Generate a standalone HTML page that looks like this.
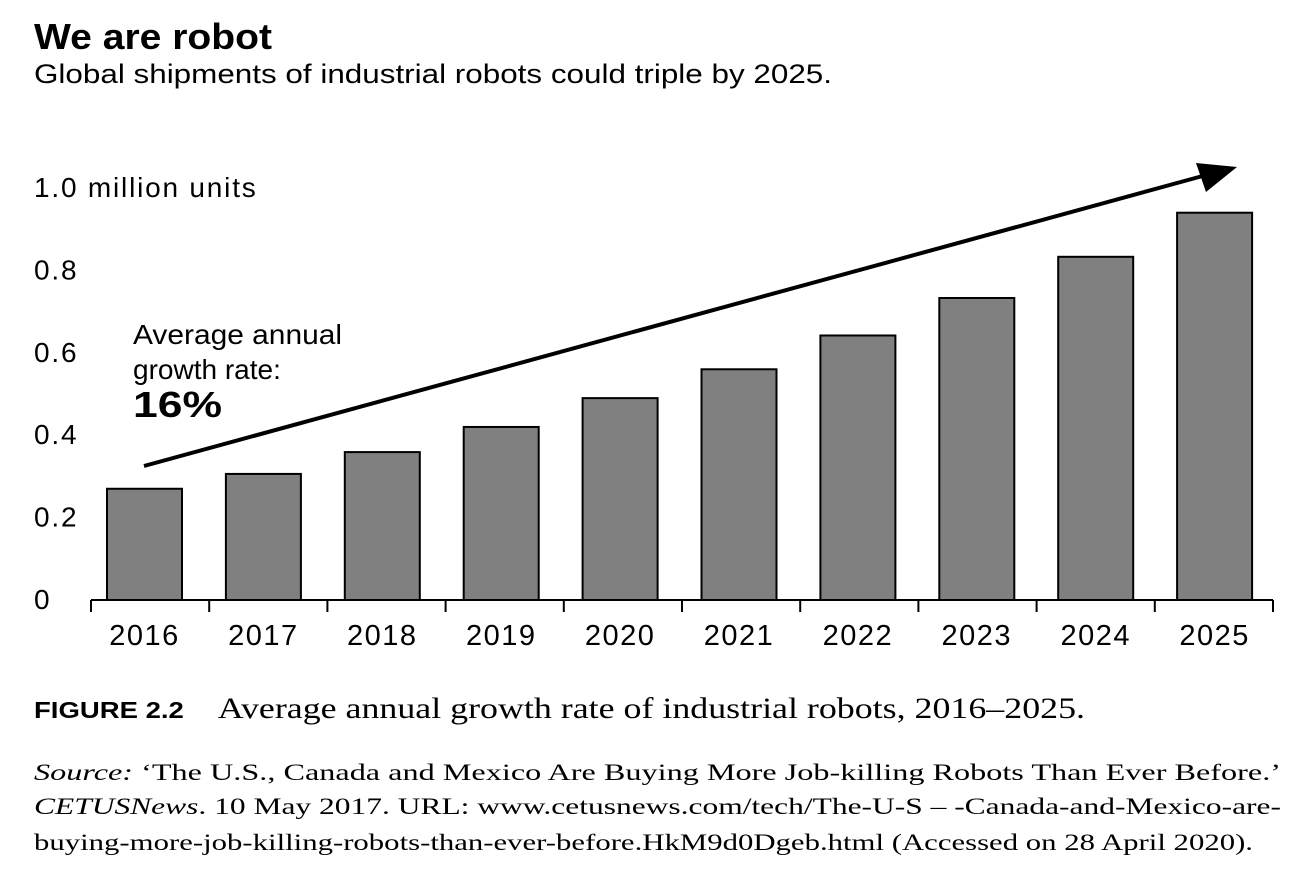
<!DOCTYPE html>
<html><head><meta charset="utf-8"><style>
body{margin:0;width:1307px;height:887px;background:#fff;overflow:hidden;position:relative;font-family:"Liberation Sans",sans-serif;color:#000}
.t{position:absolute;white-space:nowrap;transform-origin:0 0}
</style></head><body>
<div class="t" data-fit="238" style="left:34px;top:16px;font-size:36px;font-weight:bold">We are robot</div>
<div class="t" data-fit="798" style="left:34px;top:59px;font-size:27px">Global shipments of industrial robots could triple by 2025.</div>
<svg id="chart" width="1307" height="680" style="position:absolute;left:0;top:0"></svg>
<div class="t" style="left:133px;top:317px;font-size:28px;line-height:35px"><span class="t" data-fit="209" style="position:static;display:inline-block">Average annual</span><br><span style="display:inline-block">growth rate:</span><br><b data-fit="89" style="font-size:36px;display:inline-block;transform-origin:0 0">16%</b></div>
<div class="t" data-fit="1051" style="left:34px;top:692px;font-size:30px;font-family:'Liberation Serif',serif"><span style="font-family:'Liberation Sans',sans-serif;font-weight:bold;font-size:23px">FIGURE 2.2</span>&nbsp;&nbsp;&nbsp; Average annual growth rate of industrial robots, 2016–2025.</div>
<div class="t" data-fit="1247" style="left:34px;top:760px;font-size:23px;font-family:'Liberation Serif',serif"><i>Source:</i> ‘The U.S., Canada and Mexico Are Buying More Job-killing Robots Than Ever Before.’</div>
<div class="t" data-fit="1247" style="left:34px;top:794px;font-size:23px;font-family:'Liberation Serif',serif"><i>CETUSNews</i>. 10 May 2017. URL: www.cetusnews.com/tech/The-U-S – -Canada-and-Mexico-are-</div>
<div class="t" data-fit="1219" style="left:34px;top:830px;font-size:23px;font-family:'Liberation Serif',serif">buying-more-job-killing-robots-than-ever-before.HkM9d0Dgeb.html (Accessed on 28 April 2020).</div>
<script>
const categories=["2016","2017","2018","2019","2020","2021","2022","2023","2024","2025"];
const values=[0.27,0.306,0.359,0.42,0.49,0.56,0.642,0.733,0.833,0.94];
const yTicks=[0,0.2,0.4,0.6,0.8,1.0];
const yTickLabels=["0","0.2","0.4","0.6","0.8","1.0 million units"];
const svg=document.getElementById('chart');
const NS='http://www.w3.org/2000/svg';
const x0=91,tickStep=118.2,barStart=107,barStep=118.9,bw=75,y0=600,yScale=412;
const y=v=>y0-v*yScale;
function mk(tag,attrs,parent){const e=document.createElementNS(NS,tag);for(const k in attrs)e.setAttribute(k,attrs[k]);(parent||svg).appendChild(e);return e;}
categories.forEach((c,i)=>{
  const bx=barStart+i*barStep;
  const r=mk('rect',{x:bx,y:y(values[i]),width:bw,height:y0-y(values[i]),fill:'#808080',stroke:'#000','stroke-width':2});
  
  
  const t=mk('text',{x:bx+bw/2,y:645,'text-anchor':'middle','font-size':29,'letter-spacing':1.5,'font-family':'Liberation Sans, sans-serif'});
  t.textContent=c;
  
  
});
yTicks.forEach((v,i)=>{
  const t=mk('text',{x:34,y:y(v)+9,'font-size':28,'letter-spacing':1.8,'font-family':'Liberation Sans, sans-serif'});
  t.textContent=yTickLabels[i];
  
  
});
const ax=mk('line',{x1:x0,y1:y0,x2:1273,y2:y0,stroke:'#000','stroke-width':2});


for(let i=0;i<=categories.length;i++){
  const tk=mk('line',{x1:x0+i*tickStep,y1:y0,x2:x0+i*tickStep,y2:y0+12,stroke:'#000','stroke-width':2});
  
  
}
const ar=mk('line',{x1:144,y1:466,x2:1210,y2:174,stroke:'#000','stroke-width':4});


const ah=mk('polygon',{points:'1237,167 1196,163 1206,192',fill:'#000'});


document.querySelectorAll('[data-fit]').forEach(el=>{
  const w=el.getBoundingClientRect().width;
  const target=+el.getAttribute('data-fit');
  if(w>0) el.style.transform='scaleX('+(target/w)+')';
});
</script>
</body></html>
